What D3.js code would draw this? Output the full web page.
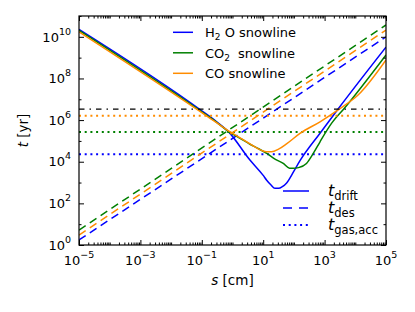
<!DOCTYPE html>
<html>
<head>
<meta charset="utf-8">
<script src="https://cdn.jsdelivr.net/npm/d3@7"></script>
<style>
  body { margin: 0; background: #fff; }
  svg { display: block; font-family: "DejaVu Sans", sans-serif; }
</style>
</head>
<body>
<svg width="415" height="312"></svg>
<script>
// grain size s [cm] and times t [yr]
const driftH2O = [
  [1e-5, 2.3e10], [0.1, 2.8e6], [0.32, 7.9e5], [0.71, 2.95e5], [3.7, 1.2e4],
  [10, 2.2e3], [13, 1.3e3], [18, 760], [24, 525], [32, 525], [42, 630],
  [58, 950], [100, 3.5e3], [158, 1.12e4], [710, 2.35e5], [2750, 3.4e6], [1e5, 3.2e9]
];
const driftCO2 = [
  [1e-5, 2.05e10], [0.1, 2.5e6], [0.32, 7.4e5], [0.72, 2.9e5], [2, 1.2e5],
  [3.7, 6.9e4], [7.1, 4.2e4], [13, 2.5e4], [25, 1.3e4], [45, 8.3e3], [72, 4.9e3],
  [95, 4.8e3], [141, 5.2e3], [257, 8.3e3], [447, 2.8e4], [710, 9.1e4],
  [1700, 7.1e5], [4270, 3.5e6], [1e5, 1.35e9]
];
const driftCO = [
  [1e-5, 1.75e10], [0.1, 2.3e6], [0.32, 7.1e5], [0.72, 3.15e5], [1.05, 2.25e5],
  [2, 1.26e5], [3.7, 7.2e4], [6.3, 4.5e4], [8.9, 3.5e4], [12.6, 3.0e4],
  [18.6, 3.0e4], [31.6, 4.0e4], [57.5, 7.2e4], [158, 2.3e5], [710, 8.3e5],
  [3160, 3.55e6], [12300, 1.6e7], [1e5, 7.8e8]
];
const desH2O = [[1e-5, 1.74], [1e5, 1.0e10]];
const desCO2 = [[1e-5, 5.2], [1e5, 3.7e10]];
const desCO = [[1e-5, 3.0], [1e5, 2.1e10]];
const gasAcc = [2.3e4, 2.7e5, 1.6e6];   // H2O, CO2, CO
const diskAge = 3.4e6;                  // black dash-dot line

const snowlines = ["H2O", "CO2", "CO"];
const colors = ["#0000ff", "#008000", "#ff8c00"];
const sMajor = [1e-5, 1e-3, 1e-1, 1e1, 1e3, 1e5];
const sMajorExp = ["\u22125", "\u22123", "\u22121", "1", "3", "5"];
const tMajor = [1, 1e2, 1e4, 1e6, 1e8, 1e10];
const tMajorExp = ["0", "2", "4", "6", "8", "10"];
const tMinor = [10, 1e3, 1e5, 1e7, 1e9, 1e11];

const pLeft = 79, pRight = 386, pTop = 16, pBottom = 245;
const svg = d3.select("svg");
const x = d3.scaleLog().domain([1e-5, 1e5]).range([pLeft, pRight]);
const y = d3.scaleLog().domain([1, 1e11]).range([pBottom, pTop]);

svg.append("clipPath").attr("id", "plot")
  .append("rect").attr("x", pLeft).attr("y", pTop)
  .attr("width", pRight - pLeft).attr("height", pBottom - pTop);

const plot = svg.append("g").attr("clip-path", "url(#plot)");
const line = d3.line().x(d => x(d[0])).y(d => y(d[1])).curve(d3.curveMonotoneX);

const drift = [driftH2O, driftCO2, driftCO];
const des = [desH2O, desCO2, desCO];

snowlines.forEach((name, i) => {
  plot.append("path").datum(drift[i])
    .attr("d", line).attr("fill", "none")
    .attr("stroke", colors[i]).attr("stroke-width", 1.5);
  plot.append("path").datum(des[i])
    .attr("d", line).attr("fill", "none")
    .attr("stroke", colors[i]).attr("stroke-width", 1.5)
    .attr("stroke-dasharray", "8,5");
  plot.append("line")
    .attr("x1", pLeft).attr("x2", pRight)
    .attr("y1", y(gasAcc[i])).attr("y2", y(gasAcc[i]))
    .attr("stroke", colors[i]).attr("stroke-width", 2)
    .attr("stroke-dasharray", "2,3.7");
});

plot.append("line")
  .attr("x1", pLeft).attr("x2", pRight)
  .attr("y1", y(diskAge)).attr("y2", y(diskAge))
  .attr("stroke", "#000").attr("stroke-width", 1.3)
  .attr("stroke-dasharray", "5.5,5,1.5,5");

// minor x ticks at 1..9 x 10^k
const sMinor = [];
for (let k = -5; k < 5; k++) {
  for (let m = 1; m < 10; m++) {
    const v = m * Math.pow(10, k);
    if (!sMajor.includes(v)) sMinor.push(v);
  }
}

function ticks(axisFn, scale, values, size, pos) {
  const g = svg.append("g").attr("transform", pos)
    .call(axisFn(scale).tickValues(values).tickSize(size).tickFormat(""));
  g.select(".domain").remove();
  g.selectAll(".tick line").attr("stroke", "#000").attr("stroke-width", 1);
}
ticks(d3.axisBottom, x, sMajor, -5, `translate(0,${pBottom})`);
ticks(d3.axisBottom, x, sMinor, -2.5, `translate(0,${pBottom})`);
ticks(d3.axisTop, x, sMajor, -5, `translate(0,${pTop})`);
ticks(d3.axisTop, x, sMinor, -2.5, `translate(0,${pTop})`);
ticks(d3.axisLeft, y, tMajor, -5, `translate(${pLeft},0)`);
ticks(d3.axisLeft, y, tMinor, -2.5, `translate(${pLeft},0)`);
ticks(d3.axisRight, y, tMajor, -5, `translate(${pRight},0)`);
ticks(d3.axisRight, y, tMinor, -2.5, `translate(${pRight},0)`);

svg.append("rect").attr("x", pLeft).attr("y", pTop)
  .attr("width", pRight - pLeft).attr("height", pBottom - pTop)
  .attr("fill", "none").attr("stroke", "#000").attr("stroke-width", 1.2);

// tick labels with superscript exponents
sMajor.forEach((v, i) => {
  const t = svg.append("text").attr("x", x(v)).attr("y", 264.5)
    .attr("text-anchor", "middle").attr("font-size", 13);
  t.append("tspan").text("10");
  t.append("tspan").attr("dy", -7).attr("font-size", 9.5).text(sMajorExp[i]);
});
tMajor.forEach((v, i) => {
  const t = svg.append("text").attr("x", 71).attr("y", y(v) + 4.7)
    .attr("text-anchor", "end").attr("font-size", 13);
  t.append("tspan").text("10");
  t.append("tspan").attr("dy", -7).attr("font-size", 9.5).text(tMajorExp[i]);
});

// axis labels
const xl = svg.append("text").attr("x", (pLeft + pRight) / 2).attr("y", 284.5)
  .attr("text-anchor", "middle").attr("font-size", 13.5);
xl.append("tspan").attr("font-style", "italic").text("s");
xl.append("tspan").text(" [cm]");

const yl = svg.append("text")
  .attr("transform", `translate(28,${(pTop + pBottom) / 2}) rotate(-90)`)
  .attr("text-anchor", "middle").attr("font-size", 13.5);
yl.append("tspan").attr("font-style", "italic").text("t");
yl.append("tspan").text(" [yr]");

// legend: snowlines
const legendRows = [
  ["H", "2", " O snowline", 0],
  ["CO", "2", "snowline", 8],
  ["CO snowline", "", "", 0]
];
legendRows.forEach((r, i) => {
  const ly = 32.3 + i * 20.5;
  svg.append("line").attr("x1", 173).attr("x2", 193)
    .attr("y1", ly).attr("y2", ly)
    .attr("stroke", colors[i]).attr("stroke-width", 1.5);
  const t = svg.append("text").attr("x", 205).attr("y", ly + 4.8)
    .attr("font-size", 13);
  t.append("tspan").text(r[0]);
  if (r[1]) {
    t.append("tspan").attr("dy", 3).attr("font-size", 9).text(r[1]);
    t.append("tspan").attr("dy", -3).attr("dx", r[3]).text(r[2]);
  }
});

// legend: time scales
const timeRows = [["drift", null], ["des", "9,7"], ["gas,acc", "2,3.7"]];
timeRows.forEach((r, i) => {
  const ly = 191 + i * 17;
  svg.append("line").attr("x1", 283).attr("x2", 309)
    .attr("y1", ly).attr("y2", ly)
    .attr("stroke", colors[0]).attr("stroke-width", i == 2 ? 2 : 1.5)
    .attr("stroke-dasharray", r[1]);
  const t = svg.append("text").attr("x", 328).attr("y", ly + 5);
  t.append("tspan").attr("font-size", 16).attr("font-style", "italic").text("t");
  t.append("tspan").attr("font-size", 11.5).attr("dy", 4).text(r[0]);
});
</script>
</body>
</html>
